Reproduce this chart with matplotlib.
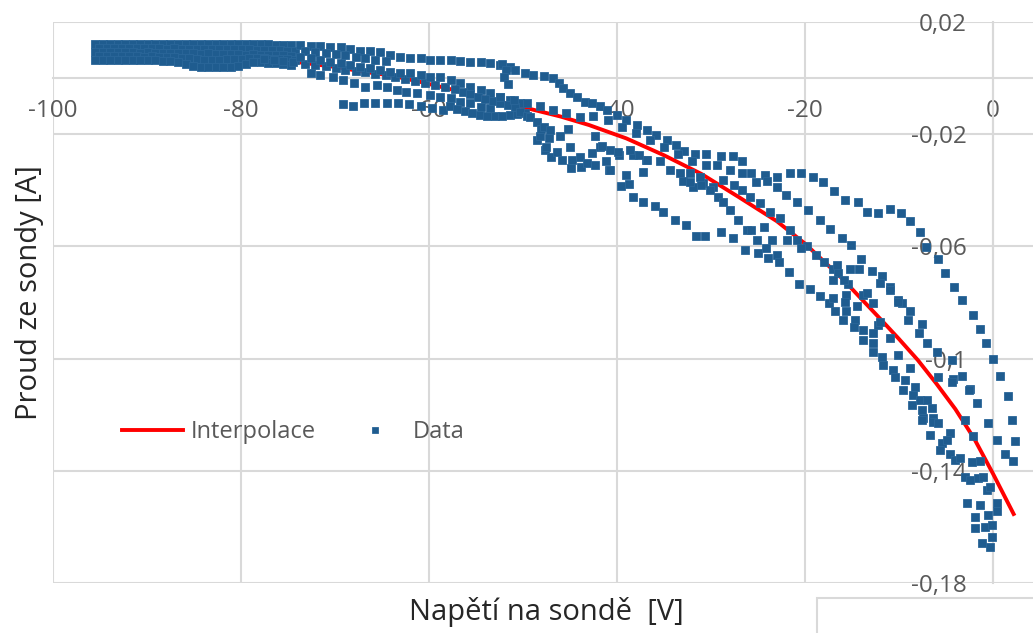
import numpy as np
import matplotlib
matplotlib.use("Agg")
import matplotlib.pyplot as plt
from matplotlib.patches import Rectangle

plt.rcParams["font.family"] = ["Open Sans", "DejaVu Sans"]

# ---------------------------------------------------------
# Interpolace (red curve)
# ---------------------------------------------------------
interp_v = [-95.5, -90, -85, -81.5, -78, -74, -70, -67, -64, -61, -58, -55, -52, -49,
            -46, -43, -39, -35, -31, -27, -23, -20, -16, -12, -10, -8, -6, -4, -2, 0, 2.2]
interp_i = [0.0108, 0.0100, 0.0092, 0.0082, 0.0072, 0.0057, 0.0040, 0.0023, 0.0009, -0.0013,
            -0.0037, -0.0062, -0.0088, -0.0112, -0.0137, -0.0167, -0.0215, -0.0275, -0.0342,
            -0.0425, -0.0510, -0.0590, -0.0716, -0.0858, -0.0930, -0.1005, -0.1090, -0.1180,
            -0.1285, -0.1410, -0.1554]

# ---------------------------------------------------------
# Data - dense band at strongly negative voltage
# ---------------------------------------------------------
band_va = [-95.5, -94.7, -93.9, -93.1, -92.3, -91.5, -90.7, -89.9, -89.1, -88.3, -87.5, -86.7,
           -85.9, -85.1, -84.3, -83.5, -82.7, -81.9, -81.1, -80.3, -79.5, -78.7, -77.9, -77.1,
           -76.3, -75.5, -74.7]
band_vb = [-95.1, -94.3, -93.5, -92.7, -91.9, -91.1, -90.3, -89.5, -88.7, -87.9, -87.1, -86.3,
           -85.5, -84.7, -83.9, -83.1, -82.3, -81.5, -80.7, -79.9, -79.1, -78.3, -77.5, -76.7,
           -75.9, -75.1, -74.3]
band_i1 = [0.0120, 0.0121, 0.0122, 0.0121, 0.0120, 0.0121, 0.0122, 0.0121, 0.0120, 0.0121, 0.0122,
           0.0120, 0.0121, 0.0122, 0.0121, 0.0120, 0.0122, 0.0123, 0.0121, 0.0122, 0.0120, 0.0121,
           0.0122, 0.0120, 0.0119, 0.0118, 0.0117]
band_i2 = [0.0107, 0.0108, 0.0106, 0.0107, 0.0108, 0.0107, 0.0106, 0.0107, 0.0106, 0.0105, 0.0106,
           0.0105, 0.0104, 0.0105, 0.0104, 0.0103, 0.0104, 0.0103, 0.0102, 0.0103, 0.0102, 0.0101,
           0.0100, 0.0101, 0.0099, 0.0098, 0.0097]
band_i3 = [0.0093, 0.0094, 0.0093, 0.0092, 0.0093, 0.0092, 0.0091, 0.0092, 0.0090, 0.0091, 0.0089,
           0.0090, 0.0088, 0.0089, 0.0087, 0.0088, 0.0086, 0.0087, 0.0085, 0.0086, 0.0084, 0.0085,
           0.0083, 0.0084, 0.0082, 0.0081, 0.0080]
band_i4 = [0.0079, 0.0080, 0.0079, 0.0078, 0.0079, 0.0078, 0.0077, 0.0078, 0.0076, 0.0077, 0.0075,
           0.0073, 0.0070, 0.0068, 0.0066, 0.0065, 0.0066, 0.0067, 0.0068, 0.0069, 0.0070, 0.0071,
           0.0070, 0.0069, 0.0068, 0.0067, 0.0066]
band_i5 = [0.0066, 0.0065, 0.0066, 0.0065, 0.0064, 0.0065, 0.0064, 0.0063, 0.0064, 0.0062, 0.0060,
           0.0056, 0.0050, 0.0044, 0.0040, 0.0038, 0.0039, 0.0041, 0.0040, 0.0042, 0.0052, 0.0056,
           0.0057, 0.0055, 0.0053, 0.0050, 0.0046]

# ---------------------------------------------------------
# Data - splitting sweeps between -78 V and -50 V
# ---------------------------------------------------------
u_v = [-73.7, -72.6, -71.6, -70.5, -69.4, -68.4, -67.3, -66.3, -65.2, -64.1, -63.1, -62.0,
       -60.9, -59.9, -58.8, -57.7, -56.7, -55.6, -54.5, -53.5, -52.4, -51.4]
u_i = [0.0118, 0.0114, 0.0114, 0.0110, 0.0112, 0.0104, 0.0098, 0.0095, 0.0092, 0.0082, 0.0074,
       0.0072, 0.0072, 0.0066, 0.0064, 0.0064, 0.0060, 0.0058, 0.0057, 0.0053, 0.0047, 0.0041]
u2_v = [-73.2, -72.1, -71.0, -69.9, -68.9, -67.8, -66.8, -65.7, -64.6]
u2_i = [0.0097, 0.0093, 0.0090, 0.0086, 0.0081, 0.0076, 0.0070, 0.0066, 0.0060]
rr_v = [-77.5, -76.5, -75.5, -74.5, -73.2, -72.1, -71.0, -69.9, -68.9, -67.8, -66.8, -65.7,
        -64.6, -63.6, -62.5, -61.5, -60.4, -59.4, -58.3]
rr_i = [0.0068, 0.0064, 0.0061, 0.0057, 0.0052, 0.0047, 0.0043, 0.0037, 0.0030, 0.0026,
        0.0021, 0.0015, 0.0011, 0.0003, -0.0003, -0.0010, -0.0018, -0.0024, -0.0033]
s_v = [-73.7, -72.6, -71.6, -70.5, -69.4, -68.4, -67.3, -66.3, -65.2, -64.1, -63.1, -62.0,
       -60.9, -59.9, -58.8, -57.7, -56.7, -55.6, -54.5, -53.5, -52.4, -51.4, -50.3]
s_i = [0.0076, 0.0071, 0.0065, 0.0059, 0.0053, 0.0047, 0.0041, 0.0035, 0.0029, 0.0023, 0.0017,
       0.0017, 0.0011, 0.0005, 0.0005, -0.0007, -0.0019, -0.0031, -0.0042, -0.0054, -0.0066,
       -0.0078, -0.0090]
t_v = [-72.6, -71.6, -70.2, -69.1, -68.0, -66.8, -65.5, -64.5, -63.4, -62.4, -61.3, -59.9,
       -58.8, -57.7, -56.7, -55.6, -54.5, -53.5]
t_i = [0.0017, 0.0011, 0.0005, -0.0007, -0.0019, -0.0031, -0.0025, -0.0031, -0.0042, -0.0048,
       -0.0054, -0.0060, -0.0066, -0.0072, -0.0084, -0.0090, -0.0102, -0.0108]
w_v = [-69.1, -68.1, -66.9, -65.7, -64.5, -63.3, -62.1, -60.9, -59.7, -58.5]
w_i = [-0.0092, -0.0098, -0.0090, -0.0088, -0.0088, -0.0088, -0.0093, -0.0100, -0.0106, -0.0112]
f_v = [-57.8, -57.0, -56.2, -55.4, -54.6, -53.8, -53.0, -52.2, -51.4, -50.6, -49.8]
f_i = [-0.0100, -0.0110, -0.0118, -0.0124, -0.0130, -0.0134, -0.0136, -0.0134, -0.0130,
       -0.0128, -0.0126]
f2_v = [-57.2, -56.4, -55.6, -54.8, -54.0, -53.2, -52.4, -51.6, -50.8]
f2_i = [-0.0040, -0.0050, -0.0058, -0.0066, -0.0074, -0.0082, -0.0090, -0.0096, -0.0104]
bar_v = [-52.2, -51.8, -52.0, -51.6]
bar_i = [0.0050, 0.0030, 0.0005, -0.0020]

# ---------------------------------------------------------
# Data - individual sweeps towards 0 V
# ---------------------------------------------------------
top_v = [-50.85, -49.8, -48.9, -47.8, -46.8, -46.2, -45.7, -45.0, -44.3, -43.4, -42.7, -41.8,
         -41.1, -40.0, -39.0, -37.9, -36.8, -35.8, -34.7, -33.7, -32.9, -31.7, -30.5, -28.9,
         -27.7, -26.7, -25.7, -24.3, -23.0, -21.6, -20.4, -19.1, -18.05, -16.9, -15.7, -14.4,
         -13.4, -12.2, -11.0, -9.8, -8.8, -7.8, -7.1, -5.8, -5.1, -4.1, -3.3, -2.1, -1.4, -0.7,
         0.0, 0.8, 1.6, 2.0, 2.3, 2.1, 1.3]
top_i = [0.0029, 0.0017, 0.0012, 0.0006, 0.0000, -0.0018, -0.0036, -0.0054, -0.0066, -0.0084,
         -0.0090, -0.0101, -0.0113, -0.0131, -0.0149, -0.0167, -0.0185, -0.0202, -0.0220,
         -0.0238, -0.0259, -0.0271, -0.0271, -0.0278, -0.0278, -0.0294, -0.0340, -0.0345,
         -0.0351, -0.0339, -0.0339, -0.0351, -0.0369, -0.0401, -0.0435, -0.0443, -0.0476,
         -0.0482, -0.0467, -0.0482, -0.0508, -0.0547, -0.0603, -0.0646, -0.0696, -0.0746,
         -0.0791, -0.0844, -0.0895, -0.0945, -0.1002, -0.1062, -0.1135, -0.1220, -0.1292,
         -0.1365, -0.1340]
b_v = [-29.4, -28.0, -26.7, -25.2, -24.0, -23.0, -22.0, -20.9, -19.65, -18.4, -17.3, -16.1,
       -15.1, -14.0, -12.9, -11.8, -11.0, -10.1, -9.7, -8.8, -7.6, -6.0, -4.4, -3.3, -2.45,
       -1.74, -0.48, 0.40]
b_i = [-0.0310, -0.0328, -0.0340, -0.0370, -0.0366, -0.0389, -0.0417, -0.0441, -0.0470, -0.0506,
       -0.0538, -0.0571, -0.0595, -0.0646, -0.0688, -0.0706, -0.0744, -0.0791, -0.0803, -0.0829,
       -0.0877, -0.0975, -0.1005, -0.1062, -0.1110, -0.1160, -0.1228, -0.1290]
c1_v = [-32.95, -31.9, -30.8, -29.75, -28.7, -27.6, -26.7, -25.85, -24.8, -23.7, -22.7, -21.6,
        -20.9, -19.8, -18.8]
c1_i = [-0.0366, -0.0387, -0.0375, -0.0387, -0.0363, -0.0381, -0.0399, -0.0423, -0.0446,
        -0.0476, -0.0500, -0.0541, -0.0577, -0.0600, -0.0630]
c2_v = [-32.2, -31.2, -30.1, -29.2, -28.7, -28.0, -27.1, -26.2, -25.1, -24.1, -23.0]
c2_i = [-0.0340, -0.0351, -0.0399, -0.0423, -0.0441, -0.0470, -0.0506, -0.0541, -0.0577,
        -0.0607, -0.0630]
mid_v = [-39.8, -38.3, -36.9, -35.4, -34.4, -33.3, -32.2, -31.1]
mid_i = [-0.0273, -0.0273, -0.0292, -0.0297, -0.0328, -0.0340, -0.0370, -0.0382]
low_v = [-39.6, -38.3, -37.2, -36.0, -35.1, -33.8, -32.7, -31.6, -30.6, -28.9, -27.7, -26.4,
         -24.95, -23.9, -22.8, -21.7, -20.6, -19.5, -18.4, -17.4]
low_i = [-0.0383, -0.0425, -0.0443, -0.0455, -0.0479, -0.0507, -0.0524, -0.0564, -0.0564,
         -0.0550, -0.0570, -0.0613, -0.0625, -0.0643, -0.0655, -0.0692, -0.0734, -0.0752,
         -0.0777, -0.0801]
extra_v = [-25.7, -24.4, -23.5, -21.95, -20.4, -18.0, -17.0, -16.5, -15.4]
extra_i = [-0.0541, -0.0530, -0.0577, -0.0577, -0.0607, -0.0655, -0.0680, -0.0695, -0.0735]
ll_v = [-50.3, -49.6, -49.3, -48.5, -48.5, -48.2, -48.1, -47.8, -47.7, -47.5, -47.2, -47.1,
        -47.0, -46.4, -46.1, -45.9, -45.2, -45.0, -44.9, -44.8, -43.9, -43.8, -43.2, -42.7,
        -42.3, -42.3, -41.8, -41.6, -41.2, -40.9, -40.75, -40.75, -39.9, -39.0, -38.7, -38.6,
        -37.7, -37.2, -36.85]
ll_i = [-0.0122, -0.0134, -0.0137, -0.0155, -0.0219, -0.0208, -0.0182, -0.0173, -0.0255,
        -0.0244, -0.0213, -0.0185, -0.0280, -0.0262, -0.0208, -0.0292, -0.0182, -0.0244,
        -0.0322, -0.0292, -0.0280, -0.0316, -0.0303, -0.0267, -0.0207, -0.0309, -0.0244,
        -0.0243, -0.0297, -0.0328, -0.0256, -0.0327, -0.0262, -0.0345, -0.0376, -0.0256,
        -0.0274, -0.0333, -0.0292]
nr_v = [-52.45, -51.0, -49.6, -48.2, -46.8, -45.4, -43.9, -42.5, -41.0, -39.5, -38.0, -36.5,
        -35.0, -33.5, -32.0, -30.5]
nr_i = [-0.0066, -0.0078, -0.0090, -0.0101, -0.0113, -0.0125, -0.0137, -0.0135, -0.0150,
        -0.0175, -0.0195, -0.0220, -0.0245, -0.0270, -0.0295, -0.0310]

# ---------------------------------------------------------
# Data - cluster near 0 V
# ---------------------------------------------------------
r1_v = [-12.0, -16.6, -17.0, -15.9, -15.6, -13.8, -15.2, -14.2, -10.96, -10.07, -9.0, -7.9,
        -7.06, -4.3, -5.8]
r1_i = [-0.0729, -0.0666, -0.0720, -0.0720, -0.0773, -0.0773, -0.0679, -0.0679, -0.0755,
        -0.0797, -0.0862, -0.0910, -0.0945, -0.1073, -0.1066]
r2_v = [-16.99, -15.75, -14.5, -13.44, -12.73, -16.8, -15.64, -14.68, -15.92, -14.79, -13.8,
        -13.8, -12.73, -12.2, -12.0, -12.73, -12.73, -11.84, -11.67, -10.96, -10.07, -8.83,
        -10.6, -10.4, -9.36, -8.3, -9.54, -8.48, -7.77, -7.06, -8.65, -7.59, -6.5, -7.4, -6.35]
r2_i = [-0.0785, -0.0797, -0.0812, -0.0767, -0.0803, -0.0829, -0.0829, -0.0862, -0.0862,
        -0.0886, -0.0898, -0.0933, -0.0910, -0.0880, -0.0868, -0.0945, -0.0975, -0.0993,
        -0.1022, -0.0927, -0.0987, -0.1034, -0.1040, -0.1066, -0.1076, -0.1100, -0.1112,
        -0.1130, -0.1147, -0.1147, -0.1165, -0.1183, -0.1177, -0.1213, -0.1213]
r3_v = [-7.58, -6.33, -5.8, -6.69, -5.45, -4.56, -4.92, -5.63, -4.56, -4.03, -3.5, -2.26,
        -1.37, -2.97, -2.43, -1.55, -1.02, -0.66, -0.31, -2.79, -1.37, 0.40, 0.40, -1.9, -0.48,
        -1.9, -0.84, -0.13, -0.13, -1.19, -0.31, -2.6, -2.97, -2.08, -4.4]
r3_i = [-0.1219, -0.1225, -0.1230, -0.1272, -0.1302, -0.1266, -0.1290, -0.1326, -0.1340,
        -0.1361, -0.1355, -0.1367, -0.1364, -0.1421, -0.1432, -0.1427, -0.1421, -0.1468,
        -0.1456, -0.1516, -0.1522, -0.1516, -0.1545, -0.1563, -0.1557, -0.1605, -0.1599,
        -0.1593, -0.1635, -0.1658, -0.1670, -0.1112, -0.1219, -0.1276, -0.1082]

# axis ticks
x_ticks = [-100, -80, -60, -40, -20, 0]
x_labels = ["-100", "-80", "-60", "-40", "-20", "0"]
y_ticks = [0.02, -0.02, -0.06, -0.10, -0.14, -0.18]
y_labels = ["0,02", "-0,02", "-0,06", "-0,1", "-0,14", "-0,18"]

data_v = np.concatenate([band_va, band_vb, band_va, band_vb, band_va,
                         u_v, u2_v, rr_v, s_v, t_v, w_v, f_v, f2_v, bar_v,
                         top_v, b_v, c1_v, c2_v, mid_v, low_v, extra_v, ll_v, nr_v,
                         r1_v, r2_v, r3_v])
data_i = np.concatenate([band_i1, band_i2, band_i3, band_i4, band_i5,
                         u_i, u2_i, rr_i, s_i, t_i, w_i, f_i, f2_i, bar_i,
                         top_i, b_i, c1_i, c2_i, mid_i, low_i, extra_i, ll_i, nr_i,
                         r1_i, r2_i, r3_i])

# ---------------------------------------------------------
# Graph
# ---------------------------------------------------------
fig = plt.figure(figsize=(10.33, 6.33), dpi=100)
ax = fig.add_axes([53 / 1033, 1 - 583 / 633, 980 / 1033, 561 / 633])

ax.plot(interp_v, interp_i, color="#FF0000", linewidth=2.8, label="Interpolace", zorder=3)
ax.plot(data_v, data_i, linestyle="none", marker="s", markersize=5.6,
        color="#1F5C8F", markeredgecolor="#2A6699", markeredgewidth=0.6,
        label="Data", zorder=4)

ax.set_xlim(-100, 4.26)
ax.set_ylim(-0.18, 0.02)
ax.set_xticks(x_ticks)
ax.set_xticklabels(x_labels)
ax.set_yticks(y_ticks)
ax.set_yticklabels(y_labels)
ax.tick_params(length=0, labelsize=17.5, labelcolor="#595959")
ax.tick_params(axis="x", pad=15)
ax.tick_params(axis="y", pad=19)

ax.grid(True, color="#D9D9D9", linewidth=1.5)
ax.set_axisbelow(True)
for side in ["top", "right"]:
    ax.spines[side].set_visible(False)
for side in ["left", "bottom"]:
    ax.spines[side].set_position(("data", 0))
    ax.spines[side].set_color("#D9D9D9")
    ax.spines[side].set_linewidth(1.5)

ax.set_xlabel("Napětí na sondě  [V]", fontsize=21, color="#262626", va="center")
ax.xaxis.set_label_coords(0.503, -0.0517)
ax.set_ylabel("Proud ze sondy [A]", fontsize=21, color="#262626", va="center")
ax.yaxis.set_label_coords(-0.0235, 0.517)

ax.legend(loc="center left", bbox_to_anchor=(122 / 1033, 1 - 432 / 633),
          bbox_transform=fig.transFigure, ncol=2, frameon=False, fontsize=17,
          handlelength=2.6, handletextpad=0.3, columnspacing=1.2,
          borderpad=0, borderaxespad=0, labelcolor="#595959", markerscale=0.75)

# border of a neighbouring object in the lower right corner
fig.add_artist(Rectangle((817 / 1033, -0.1), 0.3, 35 / 633 + 0.1,
                         transform=fig.transFigure, fill=False,
                         edgecolor="#D9D9D9", linewidth=1.5))

fig.savefig("out.png", dpi=100)
